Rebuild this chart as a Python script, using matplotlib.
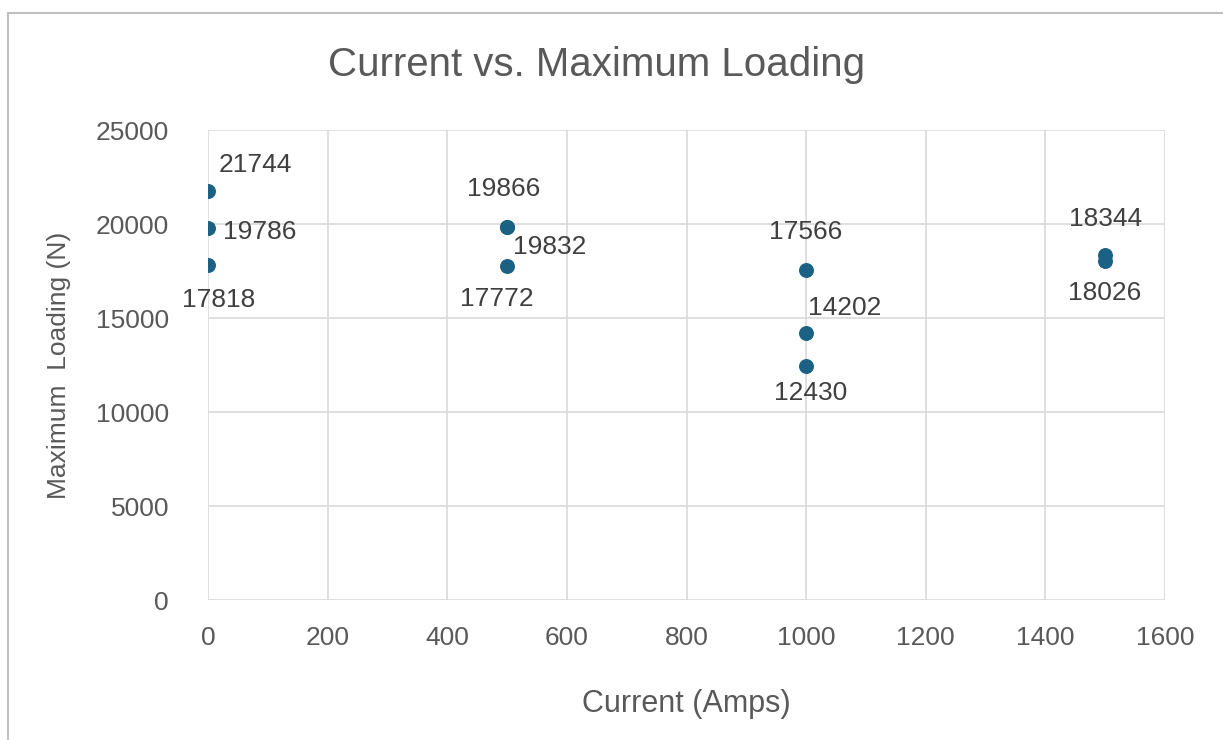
import matplotlib.pyplot as plt
from matplotlib.patches import Rectangle

current = [0, 0, 0, 500, 500, 500, 1000, 1000, 1000, 1500, 1500]
loading = [21744, 19786, 17818, 19866, 19832, 17772, 17566, 14202, 12430, 18344, 18026]
# where each value label sits relative to its point (offset in points)
label_offsets = [(8, 14), (11, -8), (-19, -30), (-29, 22), (4, -19), (-34, -29),
                 (-27, 22), (1, 13), (-23, -24), (-26, 21), (-27, -28)]

plt.rcParams['font.family'] = ['Liberation Sans Narrow', 'Liberation Sans', 'DejaVu Sans']
grey = '#595959'
grid = '#d9d9d9'

fig = plt.figure(figsize=(12.23, 7.40), dpi=100)
fig.patches.append(Rectangle((8 / 1223, -0.1), 1.2, 1.1 - 13 / 740, transform=fig.transFigure,
                             fill=False, edgecolor='#c0c0c0', linewidth=1.5))
ax = fig.add_axes([208 / 1223, 1 - 600 / 740, (1165 - 208) / 1223, (600 - 130) / 740])

ax.scatter(current, loading, s=95, color='#1b6184', zorder=3)
for x, y, off in zip(current, loading, label_offsets):
    ax.annotate(str(y), (x, y), xytext=off, textcoords='offset points',
                fontsize=19, color='#404040')

ax.set_xlim(0, 1600)
ax.set_ylim(0, 25000)
ax.set_xticks(range(0, 1601, 200))
ax.set_yticks(range(0, 25001, 5000))
ax.grid(True, color=grid, linewidth=1.2)
ax.set_axisbelow(True)
for s in ax.spines.values():
    s.set_visible(False)
ax.tick_params(length=0, labelsize=19, labelcolor=grey)
ax.tick_params(axis='y', pad=28)
ax.tick_params(axis='x', pad=19)

fig.text(597 / 1223, 1 - 65 / 740, 'Current vs. Maximum Loading', fontsize=29, color=grey,
         ha='center', va='center')
ax.set_xlabel('Current (Amps)', fontsize=22, color=grey, labelpad=28)
ax.set_ylabel('Maximum  Loading (N)', fontsize=19, color=grey, labelpad=18)

fig.savefig('out.png', dpi=100)
